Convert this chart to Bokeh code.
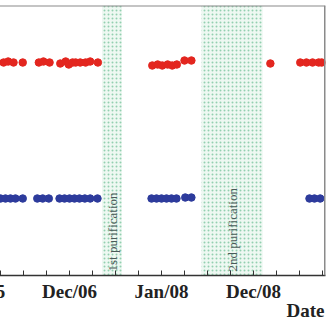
from bokeh.plotting import figure
from bokeh.models import FixedTicker, BoxAnnotation, Span, Range1d, Title
from bokeh.core.properties import value
from bokeh.embed import file_html
from bokeh.resources import INLINE
import math

# x in months (Dec/05 = 0)
red_x = [3.4, 4.0, 4.7, 5.9, 8.0, 8.6, 9.4, 10.8, 11.5, 11.9, 12.4, 12.8, 13.4, 14.1, 14.7, 15.7,
         22.8, 23.5, 24.1, 24.8, 25.4, 26.0, 27.0, 27.9, 38.2, 42.1, 42.9, 43.7, 44.5, 44.9]
red_y = [2.13, 2.14, 2.13, 2.13, 2.13, 2.14, 2.13, 2.12, 2.14, 2.11, 2.13, 2.13, 2.13, 2.13, 2.14, 2.13,
         2.10, 2.11, 2.10, 2.11, 2.10, 2.11, 2.15, 2.15, 2.12, 2.13, 2.13, 2.13, 2.13, 2.13]
blue_x = [3.0, 3.65, 4.3, 4.95, 5.9, 7.8, 8.5, 9.3, 10.7, 11.35, 12.0, 12.65, 13.3, 14.0, 14.7, 15.65,
          22.7, 23.35, 24.0, 24.65, 25.3, 25.95, 27.1, 27.9, 43.3, 43.95, 44.7]
blue_y = [0.77, 0.77, 0.77, 0.77, 0.77, 0.77, 0.77, 0.77, 0.77, 0.77, 0.77, 0.77, 0.77, 0.77, 0.77, 0.77,
          0.77, 0.77, 0.77, 0.77, 0.77, 0.77, 0.78, 0.78, 0.77, 0.77, 0.77]

band_left = [16.24, 29.2]
band_right = [18.85, 37.2]
band_labels = ["1st purification", "2nd purification"]

tick_positions = [0, 3, 6, 9, 12, 15, 18, 21, 24, 27, 30, 33, 36, 39, 42, 45]
tick_labels = {0: "Dec/05", 12: "Dec/06", 24: "Jan/08", 36: "Dec/08"}
x_title = "Date"

HIDDEN = 50  # left part of the figure that lies outside the window
p = figure(width=333 + HIDDEN, height=319, output_backend="svg", toolbar_location=None,
           y_axis_location=None, x_range=Range1d(3.0 - HIDDEN / 7.667, 45.39), y_range=Range1d(0, 2.7),
           min_border_left=0, min_border_right=8, min_border_top=5, min_border_bottom=44)
p.styles = {"margin-left": f"-{HIDDEN}px"}
p.xgrid.visible = False
p.ygrid.visible = False
p.outline_line_color = None
p.background_fill_color = "white"

for l, r in zip(band_left, band_right):
    p.add_layout(BoxAnnotation(left=l, right=r, fill_color="#eef8f2", fill_alpha=1.0,
                               line_color=None, hatch_pattern="dot", hatch_color="#93cfb0",
                               hatch_scale=4, hatch_weight=1.8, level="underlay"))

for l, r, t in zip(band_left, band_right, band_labels):
    p.text(x=[(l + r) / 2], y=[0.04], text=[t], angle=math.pi / 2,
           text_font=value("Liberation Serif"), text_font_size="13px",
           text_color="#4a5a58", text_align="left", text_baseline="alphabetic")

p.scatter(red_x, red_y, size=7.5, color="#e3261f", line_color="#e3261f")
p.scatter(blue_x, blue_y, size=7.5, color="#2d3b9c", line_color="#2d3b9c")

p.add_layout(Span(location=2.7, dimension="width", line_color="#8a8a8a", line_width=2))
p.add_layout(Span(location=45.39, dimension="height", line_color="#8a8a8a", line_width=3))

ax = p.xaxis[0]
ax.ticker = FixedTicker(ticks=tick_positions, minor_ticks=[])
ax.major_label_overrides = {t: tick_labels.get(t, "") for t in tick_positions}
ax.major_tick_in = 5
ax.major_tick_out = 0
ax.major_tick_line_color = "#333333"
ax.axis_line_color = "#333333"
ax.axis_line_width = 1.5
ax.major_label_standoff = 5
ax.major_label_text_font = "Liberation Serif"
ax.major_label_text_font_style = "bold"
ax.major_label_text_font_size = "19px"
ax.major_label_text_color = "#222222"

p.add_layout(Title(text=x_title, align="right", text_font="Liberation Serif",
                   text_font_style="bold", text_font_size="19px", text_color="#222222",
                   standoff=-13, offset=1), "below")

open("out.html", "w").write(file_html(p, INLINE))
